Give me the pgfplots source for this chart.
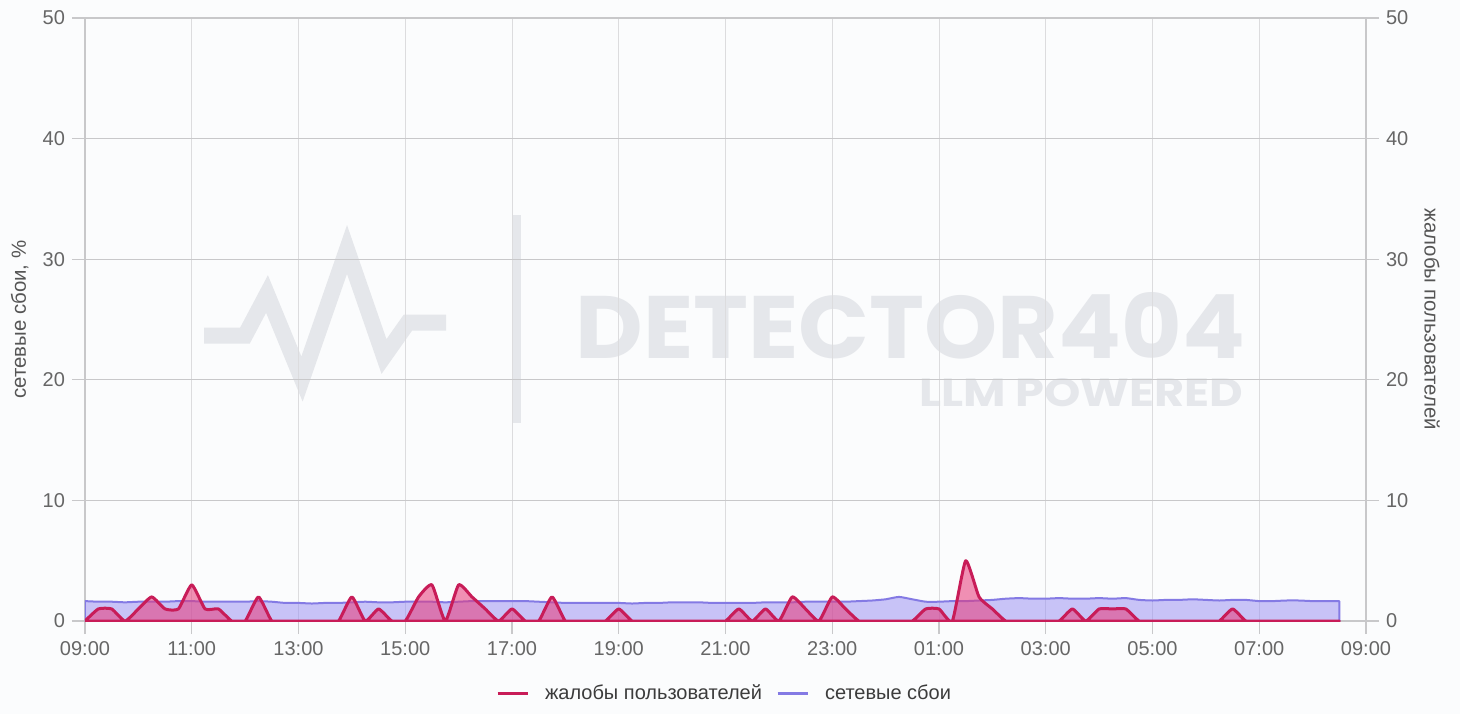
\documentclass[border=0pt]{standalone}
\usepackage{pgfplots}
\pgfplotsset{compat=1.18}
\usepackage{pgfplotstable}
\usepackage{graphicx}
\usepackage{fontspec}
\setmainfont{Liberation Sans}
\newfontfamily\wmfont{Poppins}

\definecolor{bgc}{RGB}{251,252,253}
\definecolor{gridv}{RGB}{220,220,222}
\definecolor{gridh}{RGB}{200,200,202}
\definecolor{ticktext}{RGB}{102,102,102}
\definecolor{labeltext}{RGB}{85,85,85}
\definecolor{legtext}{RGB}{60,60,60}
\definecolor{wm}{RGB}{229,231,235}
\definecolor{compline}{RGB}{200,28,88}
\definecolor{compfill}{RGB}{232,55,120}
\definecolor{netline}{RGB}{132,122,228}
\definecolor{netfill}{RGB}{150,140,242}

% short line sample for the legend, with a gap before the text
\pgfplotsset{shortleg/.style={legend image code/.code={\draw[##1] (0pt,0pt) -- (15pt,0pt); \path (21pt,0pt);}}}

% h = hours since 09:00, comp = user complaints, net = network failures (%)
\pgfplotstableread{
h comp net
0 0 1.65
0.25 1 1.6
0.5 1 1.6
0.75 0 1.55
1 1 1.6
1.25 2 1.6
1.5 1 1.6
1.75 1 1.65
2 3 1.65
2.25 1 1.6
2.5 1 1.6
2.75 0 1.6
3 0 1.6
3.25 2 1.65
3.5 0 1.6
3.75 0 1.5
4 0 1.5
4.25 0 1.45
4.5 0 1.5
4.75 0 1.5
5 2 1.55
5.25 0 1.6
5.5 1 1.55
5.75 0 1.55
6 0 1.6
6.25 2 1.6
6.5 3 1.6
6.75 0 1.55
7 3 1.6
7.25 2 1.65
7.5 1 1.65
7.75 0 1.65
8 1 1.65
8.25 0 1.65
8.5 0 1.6
8.75 2 1.55
9 0 1.5
9.25 0 1.5
9.5 0 1.5
9.75 0 1.5
10 1 1.5
10.25 0 1.45
10.5 0 1.5
10.75 0 1.5
11 0 1.55
11.25 0 1.55
11.5 0 1.55
11.75 0 1.5
12 0 1.5
12.25 1 1.5
12.5 0 1.5
12.75 1 1.55
13 0 1.55
13.25 2 1.55
13.5 1 1.6
13.75 0 1.6
14 2 1.6
14.25 1 1.6
14.5 0 1.65
14.75 0 1.7
15 0 1.8
15.25 0 2.0
15.5 0 1.8
15.75 1 1.6
16 1 1.6
16.25 0 1.65
16.5 5 1.65
16.75 2 1.7
17 1 1.75
17.25 0 1.85
17.5 0 1.9
17.75 0 1.85
18 0 1.85
18.25 0 1.9
18.5 1 1.85
18.75 0 1.85
19 1 1.9
19.25 1 1.85
19.5 1 1.9
19.75 0 1.75
20 0 1.7
20.25 0 1.75
20.5 0 1.75
20.75 0 1.8
21 0 1.75
21.25 0 1.7
21.5 1 1.75
21.75 0 1.75
22 0 1.65
22.25 0 1.65
22.5 0 1.7
22.75 0 1.7
23 0 1.65
23.25 0 1.65
23.5 0 1.65
}\datatable

\begin{document}
\begin{tikzpicture}
% page background
\fill[bgc] (-42.5pt,-46.5pt) rectangle (687.5pt,310.5pt);

% watermark behind the grid
\draw[wm, line width=8pt, line join=miter, miter limit=10]
  (59.5pt,142.75pt) -- (80pt,142.75pt) -- (91pt,163.5pt) -- (108.5pt,121pt)
  -- (131pt,185.75pt) -- (149.5pt,132.25pt) -- (161.5pt,149.25pt) -- (180.5pt,149.25pt);
\fill[wm] (214pt,99pt) rectangle (218pt,203pt);
\node[wm, anchor=base west, inner sep=0pt] at (245pt,131.5pt)
  {\resizebox{335pt}{33pt}{\wmfont\bfseries DETECTOR404}};
\node[wm, anchor=base west, inner sep=0pt] at (417pt,107.5pt)
  {\resizebox{162pt}{14pt}{\wmfont\bfseries LLM POWERED}};

\begin{axis}[
  at={(0,0)}, anchor=south west,
  scale only axis, width=640.5pt, height=301.5pt,
  xmin=0, xmax=24, ymin=0, ymax=50,
  xtick={0,2,...,24},
  xticklabels={09:00,11:00,13:00,15:00,17:00,19:00,21:00,23:00,01:00,03:00,05:00,07:00,09:00},
  ytick={0,10,...,50},
  axis y line*=left, axis x line*=bottom,
  xmajorgrids, ymajorgrids,
  major x grid style={draw=gridv, line width=0.5pt},
  major y grid style={draw=gridh, line width=0.6pt},
  axis line style={draw=gridh, line width=0.6pt},
  tick align=outside, major tick length=6.5pt,
  tick style={draw=gridh, line width=0.6pt},
  ticklabel style={font=\fontsize{10}{12}\selectfont, text=ticktext},
  /pgf/number format/assume math mode=true,
  ylabel={сетевые сбои, \%},
  every axis y label/.style={at={(axis description cs:-0.051,0.5)}, rotate=90, anchor=center,
    font=\fontsize{10.2}{12}\selectfont, text=labeltext},
  legend style={at={(axis description cs:0.5,-0.121)}, anchor=center, draw=none, fill=none,
    legend columns=2, font=\fontsize{10}{12}\selectfont, text=legtext,
    /tikz/every even column/.append style={column sep=5pt}},
  legend cell align=left,
  clip=true,
]
\addlegendimage{compline, line width=1.5pt, shortleg}
\addlegendentry{жалобы пользователей}
\addlegendimage{netline, line width=1.5pt, shortleg}
\addlegendentry{сетевые сбои}

\addplot[forget plot, draw=netline, line width=1pt, smooth, tension=0.3, line join=round,
  fill=netfill, fill opacity=0.5] table[x=h, y=net]{\datatable} \closedcycle;
\addplot[forget plot, draw=compline, line width=1.5pt, smooth, tension=0.3, line join=round,
  fill=compfill, fill opacity=0.55] table[x=h, y=comp]{\datatable} \closedcycle;
\end{axis}

\begin{axis}[
  at={(0,0)}, anchor=south west,
  scale only axis, width=640.5pt, height=301.5pt,
  xmin=0, xmax=24, ymin=0, ymax=50,
  axis x line=none,
  axis y line*=right,
  ytick={0,10,...,50},
  axis line style={draw=gridh, line width=0.6pt},
  tick align=outside, major tick length=6.5pt,
  tick style={draw=gridh, line width=0.6pt},
  ticklabel style={font=\fontsize{10}{12}\selectfont, text=ticktext},
  /pgf/number format/assume math mode=true,
  ylabel={жалобы пользователей},
  every axis y label/.style={at={(axis description cs:1.0515,0.5)}, rotate=-90, anchor=center,
    font=\fontsize{10.2}{12}\selectfont, text=labeltext},
]
\end{axis}

\pgfresetboundingbox
\path (-42.5pt,-46.5pt) rectangle (687.5pt,310.5pt);
\end{tikzpicture}
\end{document}
